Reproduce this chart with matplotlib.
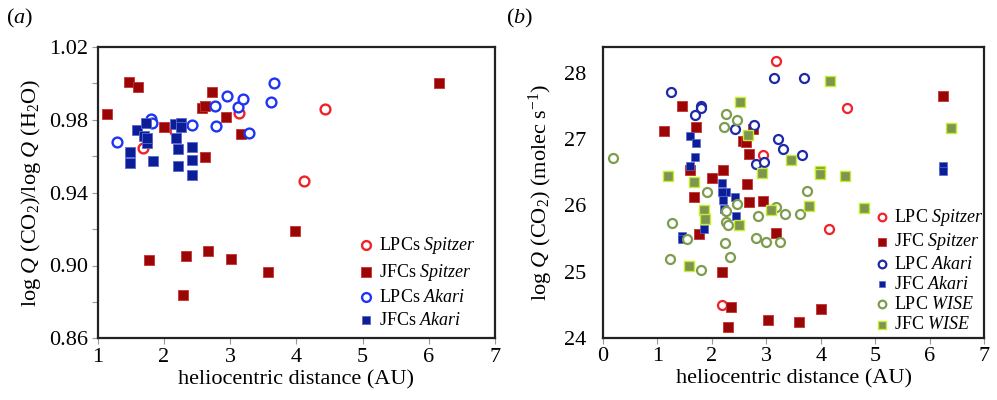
import matplotlib
matplotlib.use("Agg")
import matplotlib.pyplot as plt
from matplotlib.ticker import FixedLocator, FormatStrFormatter

plt.rcParams['font.family'] = ['Liberation Serif', 'DejaVu Serif']
plt.rcParams['mathtext.fontset'] = 'custom'
plt.rcParams['mathtext.rm'] = 'Liberation Serif'
plt.rcParams['mathtext.it'] = 'Liberation Serif:italic'

# panel (a): log Q(CO2)/log Q(H2O) vs heliocentric distance
a_lpc_spitzer_r = [4.43, 4.12, 3.13, 1.69, 2.16]
a_lpc_spitzer_v = [0.986, 0.9466, 0.9835, 0.9647, 0.974]
a_jfc_spitzer_r = [1.135, 1.466, 1.61, 2.0, 2.57, 2.62, 2.73, 2.93, 3.16, 2.62, 6.16,
                   3.98, 1.78, 2.33, 2.67, 3.02, 3.57, 2.29]
a_jfc_spitzer_v = [0.983, 1.0008, 0.998, 0.976, 0.9866, 0.9875, 0.9953, 0.9815, 0.972, 0.9594, 1.0003,
                   0.9188, 0.9028, 0.905, 0.9077, 0.9035, 0.8962, 0.8838]
a_lpc_akari_r = [1.29, 1.80, 1.82, 2.43, 2.77, 2.79, 2.96, 3.12, 3.19, 3.28, 3.62, 3.66]
a_lpc_akari_v = [0.9678, 0.9806, 0.9784, 0.9771, 0.9875, 0.9765, 0.993, 0.987, 0.9915, 0.9725, 0.9897, 1.0003]
a_jfc_akari_r = [1.49, 1.49, 1.60, 1.70, 1.73, 1.74, 1.75, 1.84, 2.17, 2.18, 2.22, 2.21,
                 2.26, 2.26, 2.42, 2.43, 2.43]
a_jfc_akari_v = [0.9623, 0.9565, 0.9744, 0.971, 0.9784, 0.9674, 0.970, 0.9572, 0.9778, 0.970, 0.9638, 0.9546,
                 0.9784, 0.976, 0.9649, 0.9577, 0.9495]

# panel (b): log Q(CO2) vs heliocentric distance
b_lpc_spitzer_r = [3.17, 4.48, 2.94, 4.15, 2.18]
b_lpc_spitzer_v = [28.18, 27.48, 26.77, 25.65, 24.50]
b_jfc_spitzer_r = [6.25, 1.46, 1.12, 1.71, 2.75, 2.57, 2.62, 2.68, 1.60, 2.01, 2.20, 2.64,
                   1.68, 2.68, 2.94, 1.76, 3.18, 2.19, 2.35, 2.30, 3.03, 3.60, 4.01]
b_jfc_spitzer_v = [27.66, 27.51, 27.13, 27.19, 27.16, 26.98, 26.96, 26.78, 26.53, 26.42, 26.53, 26.33,
                   26.13, 26.05, 26.06, 25.56, 25.59, 25.0, 24.47, 24.16, 24.26, 24.24, 24.44]
b_lpc_akari_r = [3.14, 3.69, 1.26, 1.81, 1.80, 1.69, 2.43, 2.78, 3.22, 3.30, 3.66, 2.81, 2.96]
b_lpc_akari_v = [27.93, 27.93, 27.71, 27.50, 27.48, 27.37, 27.15, 27.22, 27.01, 26.86, 26.77, 26.63, 26.66]
b_jfc_akari_r = [1.60, 1.71, 1.70, 1.60, 2.18, 2.27, 2.43, 2.21, 2.23, 2.45, 1.85, 1.46,
                 1.46, 6.24, 6.24, 2.18]
b_jfc_akari_v = [27.05, 26.94, 26.73, 26.60, 26.34, 26.20, 26.13, 26.08, 25.94, 25.84, 25.64, 25.54,
                 25.49, 26.60, 26.52, 26.21]
b_lpc_wise_r = [0.18, 2.26, 2.46, 2.23, 1.91, 3.75, 2.46, 3.17, 3.35, 3.62, 2.84, 2.26,
                2.26, 2.30, 1.28, 1.54, 2.81, 3.00, 3.26, 2.24, 1.24, 2.34, 1.80]
b_lpc_wise_v = [26.72, 27.39, 27.29, 27.18, 26.20, 26.22, 26.02, 25.97, 25.87, 25.87, 25.84, 25.91,
                25.75, 25.70, 25.74, 25.49, 25.51, 25.44, 25.44, 25.43, 25.19, 25.22, 25.03]
b_jfc_wise_r = [4.17, 2.52, 6.39, 2.67, 3.46, 3.99, 3.99, 4.45, 2.92, 1.20, 1.67, 3.78,
                3.09, 4.80, 1.85, 1.88, 2.50, 1.58]
b_jfc_wise_v = [27.89, 27.57, 27.17, 27.07, 26.69, 26.52, 26.47, 26.44, 26.49, 26.45, 26.36, 25.99,
                25.93, 25.96, 25.93, 25.80, 25.71, 25.08]

red = '#f0222a'
darkred = '#9a0606'
blue_a = '#1e35f5'
navy_lpc = '#1c2aa8'
navy = '#0b1e98'
olive = '#7e9c4e'
olive_fill = '#7d9550'
lime = '#c6ee2a'

fig = plt.figure(figsize=(9.97, 4.0), dpi=100)
ax1 = fig.add_axes([0.098, 0.154, 0.3985, 0.729])
ax2 = fig.add_axes([0.6045, 0.156, 0.3828, 0.727])

ax1.scatter(a_lpc_spitzer_r, a_lpc_spitzer_v, s=50, marker='o', facecolor='white', edgecolor=red,
            linewidth=1.7, label='LPCs $\\mathit{Spitzer}$', zorder=3)
ax1.scatter(a_jfc_spitzer_r, a_jfc_spitzer_v, s=58, marker='s', facecolor=darkred, edgecolor='#c83030',
            linewidth=0.6, label='JFCs $\\mathit{Spitzer}$', zorder=3)
ax1.scatter(a_lpc_akari_r, a_lpc_akari_v, s=50, marker='o', facecolor='white', edgecolor=blue_a,
            linewidth=1.7, label='LPCs $\\mathit{Akari}$', zorder=3)
ax1.scatter(a_jfc_akari_r, a_jfc_akari_v, s=50, marker='s', facecolor=navy, edgecolor='#5a6ad0',
            linewidth=0.6, label='JFCs $\\mathit{Akari}$', zorder=4)

ax2.scatter(b_lpc_spitzer_r, b_lpc_spitzer_v, s=42, marker='o', facecolor='white', edgecolor=red,
            linewidth=1.6, label='LPC $\\mathit{Spitzer}$', zorder=3)
ax2.scatter(b_jfc_spitzer_r, b_jfc_spitzer_v, s=48, marker='s', facecolor=darkred, edgecolor='#c83030',
            linewidth=0.6, label='JFC $\\mathit{Spitzer}$', zorder=3)
ax2.scatter(b_lpc_akari_r, b_lpc_akari_v, s=42, marker='o', facecolor='white', edgecolor=navy_lpc,
            linewidth=1.6, label='LPC $\\mathit{Akari}$', zorder=3)
ax2.scatter(b_jfc_akari_r, b_jfc_akari_v, s=28, marker='s', facecolor=navy, edgecolor='#5a6ad0',
            linewidth=0.5, label='JFC $\\mathit{Akari}$', zorder=4)
ax2.scatter(b_lpc_wise_r, b_lpc_wise_v, s=42, marker='o', facecolor='white', edgecolor=olive,
            linewidth=1.6, label='LPC $\\mathit{WISE}$', zorder=4)
ax2.scatter(b_jfc_wise_r, b_jfc_wise_v, s=48, marker='s', facecolor=olive_fill, edgecolor=lime,
            linewidth=1.0, label='JFC $\\mathit{WISE}$', zorder=4)

ax1.set_xlim(1, 7)
ax1.set_ylim(0.86, 1.02)
ax1.yaxis.set_major_locator(FixedLocator([0.86, 0.90, 0.94, 0.98, 1.02]))
ax1.yaxis.set_minor_locator(FixedLocator([0.88, 0.92, 0.96, 1.00]))
ax1.yaxis.set_major_formatter(FormatStrFormatter('%.2f'))
ax1.set_xticks([1, 2, 3, 4, 5, 6, 7])
ax1.set_xlabel('heliocentric distance (AU)', fontsize=16, labelpad=2)
ax1.set_ylabel('log $Q$ (CO$_2$)/log $Q$ (H$_2$O)', fontsize=16, labelpad=4)

ax2.set_xlim(0, 7)
ax2.set_ylim(24, 28.4)
ax2.set_yticks([24, 25, 26, 27, 28])
ax2.set_xticks([0, 1, 2, 3, 4, 5, 6, 7])
ax2.set_xlabel('heliocentric distance (AU)', fontsize=16, labelpad=2)
ax2.set_ylabel('log $Q$ (CO$_2$) (molec s$^{-1}$)', fontsize=16, labelpad=6)

for ax in (ax1, ax2):
    for sp in ax.spines.values():
        sp.set_linewidth(1.6)
        sp.set_color('#222222')
    ax.tick_params(which='both', direction='out', length=4, width=0.8, color='#999999',
                   labelsize=16, pad=3)
ax2.tick_params(axis='y', length=0, pad=12)

leg1 = ax1.legend(loc='upper left', bbox_to_anchor=(0.625, 0.385), frameon=False, fontsize=13,
                  handletextpad=0.1, labelspacing=0.33, borderpad=0, handlelength=1.2,
                  markerscale=0.9)
leg2 = ax2.legend(loc='upper left', bbox_to_anchor=(0.68, 0.48), frameon=False, fontsize=13,
                  handletextpad=0.05, labelspacing=0.18, borderpad=0, handlelength=1.2,
                  markerscale=0.85)

fig.text(0.006, 0.955, '($a$)', fontsize=16, ha='left', va='center')
fig.text(0.508, 0.955, '($b$)', fontsize=16, ha='left', va='center')

fig.savefig('out.png', dpi=100)
